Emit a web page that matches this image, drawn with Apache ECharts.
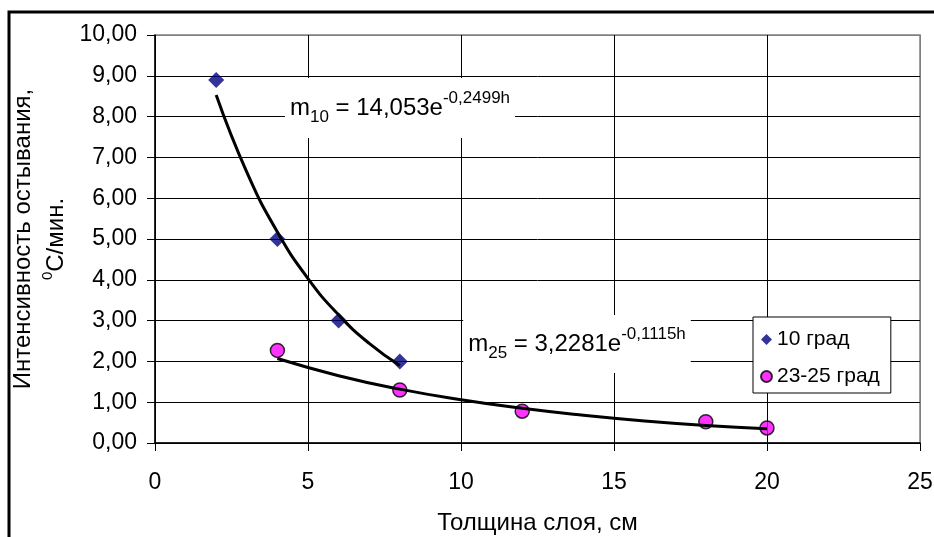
<!DOCTYPE html>
<html>
<head>
<meta charset="utf-8">
<title>Интенсивность остывания</title>
<script src="https://cdn.jsdelivr.net/npm/echarts@6.0.0/dist/echarts.min.js"></script>
<style>
  html, body { margin: 0; padding: 0; background: #fff; }
  #chart { width: 934px; height: 537px; }
</style>
</head>
<body>
<div id="chart"></div>
<script>
  // точки опыта
  var thickness10 = [2, 4, 6, 8];
  var rate10 = [8.9, 5.0, 3.0, 2.0];
  var thickness25 = [4, 8, 12, 18, 20];
  var rate25 = [2.27, 1.3, 0.78, 0.52, 0.37];

  // линии тренда
  var trend10X = [2, 3, 4, 5, 6, 7, 8];
  var trend10Y = [8.53, 6.64, 5.17, 4.03, 3.14, 2.44, 1.90];
  var trend25X = [4, 6, 8, 10, 12, 14, 16, 18, 20];
  var trend25Y = [2.07, 1.65, 1.32, 1.06, 0.85, 0.68, 0.54, 0.43, 0.35];

  // оси
  var xTicks = [0, 5, 10, 15, 20, 25];
  var yTicks = ['0,00', '1,00', '2,00', '3,00', '4,00', '5,00', '6,00', '7,00', '8,00', '9,00', '10,00'];
  var legendNames = ['10 град', '23-25 град'];

  var FONT = '"Liberation Sans", Arial, sans-serif';

  function pairs(xs, ys) {
    return xs.map(function (x, i) { return [x, ys[i]]; });
  }

  var eqRich = {
    m: { fontFamily: FONT, fontSize: 24, fill: '#000', lineHeight: 36 },
    sub: { fontFamily: FONT, fontSize: 17, fill: '#000', lineHeight: 30, verticalAlign: 'bottom' },
    sup: { fontFamily: FONT, fontSize: 17, fill: '#000', lineHeight: 17, verticalAlign: 'top' }
  };

  var chart = echarts.init(document.getElementById('chart'));

  chart.setOption({
    backgroundColor: '#fff',
    animation: false,
    textStyle: { fontFamily: FONT, color: '#000' },
    grid: {
      left: 155, right: 14, top: 35, bottom: 94,
      show: true, borderColor: '#808080', borderWidth: 1.5,
      outerBoundsMode: 'none'
    },
    legend: {
      data: legendNames,
      orient: 'vertical',
      left: 753, top: 317,
      padding: [12, 11, 6, 7],
      itemWidth: 11, itemHeight: 11, itemGap: 16,
      backgroundColor: '#fff',
      borderColor: '#000', borderWidth: 1,
      textStyle: { fontFamily: FONT, fontSize: 21, color: '#000' }
    },
    xAxis: {
      type: 'value',
      min: xTicks[0], max: xTicks[xTicks.length - 1], interval: 5,
      name: 'Толщина слоя, см',
      nameLocation: 'middle', nameGap: 68,
      nameTextStyle: { fontFamily: FONT, fontSize: 24, color: '#000' },
      axisLine: { lineStyle: { color: '#000', width: 1.5 } },
      axisTick: { show: true, length: 8, inside: false, lineStyle: { color: '#000' } },
      axisLabel: { margin: 28, fontFamily: FONT, fontSize: 23, color: '#000' },
      splitLine: {
        show: true,
        lineStyle: { color: ['#000', '#000', '#000', '#000', '#000', '#808080'], width: 1 }
      }
    },
    yAxis: {
      type: 'value',
      min: 0, max: 10, interval: 1,
      name: '{a|Интенсивность остывания,}\n{s|0}{a|C/мин.}',
      nameLocation: 'middle', nameRotate: 90, nameGap: 75,
      nameTextStyle: {
        rich: {
          a: { fontFamily: FONT, fontSize: 24, color: '#000', lineHeight: 33 },
          s: { fontFamily: FONT, fontSize: 15, color: '#000', lineHeight: 16, verticalAlign: 'top' }
        }
      },
      axisLine: { show: true, lineStyle: { color: '#000', width: 1.5 } },
      axisTick: { show: true, length: 8, inside: false, lineStyle: { color: '#000' } },
      axisLabel: {
        margin: 18, fontFamily: FONT, fontSize: 23, color: '#000',
        formatter: function (v) { return yTicks[Math.round(v)]; }
      },
      splitLine: {
        show: true,
        lineStyle: {
          color: ['#000', '#000', '#000', '#000', '#000', '#000', '#000', '#000', '#000', '#000', '#808080'],
          width: 1
        }
      }
    },
    graphic: [
      {
        // рамка диаграммы
        type: 'rect', z: 10, silent: true,
        shape: { x: 9, y: 12, width: 940, height: 540 },
        style: { fill: null, stroke: '#000', lineWidth: 3 }
      },
      {
        type: 'text', z: 1, x: 400, y: 108,
        style: {
          text: '{m|m}{sub|10}{m| = 14,053e}{sup|-0,2499h}',
          align: 'center', verticalAlign: 'middle',
          backgroundColor: '#fff', padding: [12, 5, 12, 5],
          rich: eqRich
        }
      },
      {
        type: 'text', z: 1, x: 577, y: 344,
        style: {
          text: '{m|m}{sub|25}{m| = 3,2281e}{sup|-0,1115h}',
          align: 'center', verticalAlign: 'middle',
          backgroundColor: '#fff', padding: [11, 5, 11, 5],
          rich: eqRich
        }
      }
    ],
    series: [
      {
        name: legendNames[0],
        type: 'scatter',
        symbol: 'diamond', symbolSize: 16,
        itemStyle: { color: '#000080' },
        data: pairs(thickness10, rate10),
        z: 3
      },
      {
        name: legendNames[1],
        type: 'scatter',
        symbol: 'circle', symbolSize: 14,
        itemStyle: { color: '#ff00ff', borderColor: '#000', borderWidth: 1.5 },
        data: pairs(thickness25, rate25),
        z: 3
      },
      {
        name: 'тренд 10',
        type: 'line', smooth: true, showSymbol: false,
        lineStyle: { color: '#000', width: 3 },
        data: pairs(trend10X, trend10Y),
        z: 4
      },
      {
        name: 'тренд 25',
        type: 'line', smooth: true, showSymbol: false,
        lineStyle: { color: '#000', width: 3 },
        data: pairs(trend25X, trend25Y),
        z: 4
      }
    ]
  });
</script>
</body>
</html>
